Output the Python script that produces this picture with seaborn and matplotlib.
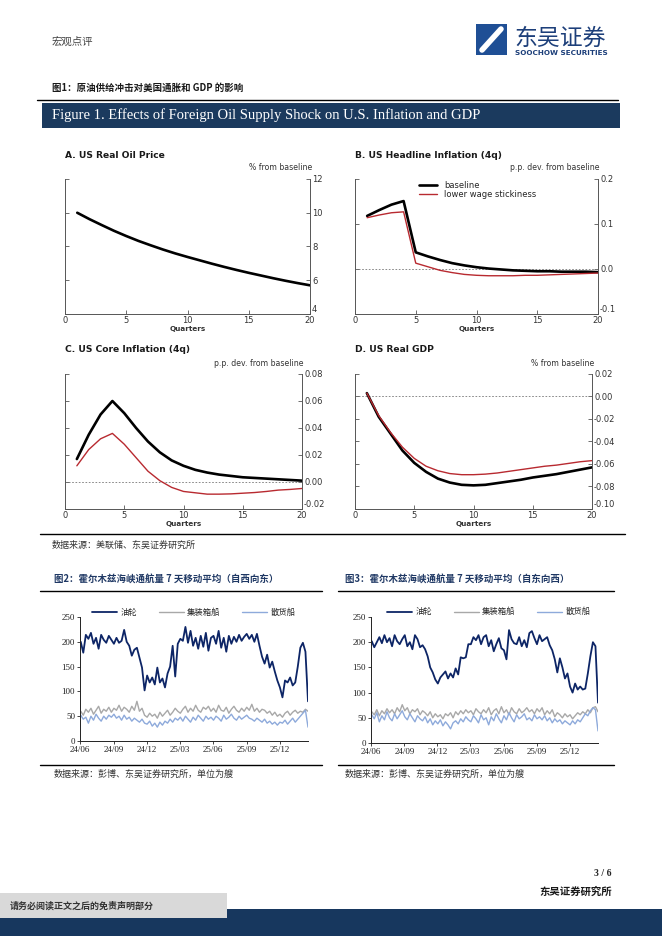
import pandas as pd
import seaborn as sns
import matplotlib.pyplot as plt
import matplotlib.dates as mdates
from matplotlib.lines import Line2D
from matplotlib.patches import Rectangle

# ---- Figure 1 data (quarters after shock) ----
quarters = list(range(1, 21))
oil_price = [10.0, 9.62, 9.27, 8.93, 8.62, 8.33, 8.07, 7.82, 7.59, 7.38,
             7.18, 6.98, 6.79, 6.61, 6.44, 6.28, 6.12, 5.97, 5.83, 5.70]
headline_base = [0.118, 0.131, 0.143, 0.151, 0.037, 0.028, 0.020, 0.013, 0.008, 0.004,
                 0.001, -0.001, -0.003, -0.004, -0.005, -0.005, -0.006, -0.006, -0.006, -0.007]
headline_low = [0.114, 0.120, 0.125, 0.127, 0.013, 0.005, -0.003, -0.008, -0.012, -0.014,
                -0.015, -0.015, -0.015, -0.014, -0.014, -0.013, -0.012, -0.011, -0.010, -0.009]
core_base = [0.017, 0.035, 0.050, 0.060, 0.051, 0.040, 0.030, 0.022, 0.016, 0.012,
             0.009, 0.007, 0.0055, 0.0045, 0.0035, 0.003, 0.0025, 0.002, 0.0015, 0.001]
core_low = [0.012, 0.024, 0.032, 0.036, 0.028, 0.018, 0.008, 0.001, -0.004, -0.007,
            -0.008, -0.009, -0.009, -0.0088, -0.0083, -0.0078, -0.007, -0.006, -0.0055, -0.0048]
gdp_base = [0.003, -0.018, -0.033, -0.048, -0.059, -0.067, -0.073, -0.0765, -0.0785, -0.079,
            -0.0785, -0.077, -0.0755, -0.074, -0.072, -0.0705, -0.069, -0.067, -0.065, -0.063]
gdp_low = [0.003, -0.017, -0.032, -0.045, -0.055, -0.062, -0.066, -0.0685, -0.0695, -0.0695,
           -0.069, -0.068, -0.0665, -0.065, -0.0635, -0.062, -0.061, -0.0595, -0.058, -0.057]

# ---- Figures 2/3 data: weekly 7-day MA vessel counts ----
weeks = pd.date_range('2024-06-03', periods=90, freq='7D')
we_tanker = [200, 178, 214, 206, 218, 196, 208, 186, 214, 204, 198, 212, 204,
             196, 208, 198, 202, 224, 200, 192, 172, 184, 188, 168, 148, 102, 132,
             118, 128, 114, 148, 118, 126, 108, 136, 150, 192, 130, 196, 206,
             202, 230, 198, 222, 192, 208, 186, 212, 190, 218, 182, 208, 212,
             196, 222, 188, 208, 180, 212, 196, 210, 200, 214, 202, 210, 216,
             206, 214, 200, 216, 192, 170, 156, 174, 148, 160, 140, 122, 108, 88,
             122, 118, 128, 112, 118, 150, 188, 198, 180, 80]
we_container = [60, 52, 64, 58, 66, 54, 62, 70, 56, 64, 60, 68, 58,
                66, 62, 72, 60, 68, 64, 58, 70, 62, 80, 60, 66, 52,
                48, 56, 50, 54, 46, 58, 50, 56, 62, 52, 58, 66, 60,
                56, 64, 70, 58, 66, 60, 72, 62, 58, 68, 64, 70, 60,
                66, 58, 72, 62, 60, 68, 56, 64, 70, 62, 58, 66, 60,
                68, 62, 74, 60, 66, 58, 64, 62, 56, 60, 52, 58, 50,
                54, 48, 56, 60, 52, 58, 62, 56, 60, 58, 64, 60]
we_bulk = [52, 44, 48, 36, 50, 42, 54, 46, 40, 50, 44, 52, 48,
           54, 46, 50, 42, 52, 44, 48, 40, 46, 42, 38, 44, 36,
           34, 40, 30, 36, 28, 38, 32, 40, 36, 44, 38, 46, 42,
           48, 40, 50, 44, 38, 48, 42, 52, 46, 40, 50, 44, 48,
           42, 50, 46, 40, 52, 44, 48, 54, 46, 42, 50, 44, 48,
           52, 46, 44, 40, 46, 42, 38, 44, 36, 40, 34, 38, 32,
           38, 36, 42, 34, 40, 46, 38, 44, 50, 56, 62, 28]
ew_tanker = [202, 190, 200, 210, 198, 214, 200, 208, 192, 214, 202, 196, 206,
             214, 192, 200, 186, 214, 206, 190, 194, 186, 172, 150, 140, 126, 118,
             130, 136, 142, 128, 138, 130, 148, 136, 170, 168, 170, 196, 196,
             210, 204, 214, 196, 210, 214, 192, 204, 182, 196, 208, 188, 184,
             166, 224, 206, 198, 196, 210, 192, 204, 190, 218, 222, 208, 196,
             214, 202, 206, 210, 194, 184, 166, 140, 168, 150, 128, 138, 112, 100,
             118, 106, 112, 106, 108, 138, 172, 200, 192, 80]
ew_container = [62, 56, 66, 54, 64, 58, 68, 60, 66, 58, 70, 62, 76,
                64, 70, 58, 66, 62, 68, 56, 64, 60, 54, 62, 50, 58,
                52, 56, 48, 58, 54, 60, 50, 62, 56, 64, 58, 66, 60,
                64, 56, 68, 62, 58, 66, 60, 70, 56, 64, 68, 58, 72,
                60, 66, 56, 70, 62, 58, 68, 60, 64, 70, 62, 66, 58,
                68, 62, 70, 56, 64, 58, 66, 52, 60, 56, 50, 58, 52,
                56, 48, 54, 60, 56, 62, 58, 66, 60, 70, 72, 62]
ew_bulk = [56, 48, 60, 42, 54, 46, 62, 50, 44, 58, 48, 56, 64,
           52, 46, 58, 50, 42, 54, 48, 44, 52, 40, 48, 36, 44,
           38, 46, 34, 42, 36, 28, 40, 44, 38, 48, 42, 52, 46,
           42, 54, 48, 40, 56, 46, 50, 36, 52, 44, 58, 48, 40,
           54, 46, 60, 50, 42, 56, 48, 52, 58, 46, 50, 44, 56,
           48, 52, 46, 54, 44, 50, 40, 48, 42, 46, 38, 44, 40,
           36, 44, 38, 46, 42, 50, 58, 54, 64, 70, 66, 24]
series_names = ['油轮', '集装箱船', '散货船']
series_colors = ['#0d2566', '#a8a8a8', '#8eaadb']
month_ticks = pd.to_datetime(['2024-06-01', '2024-09-01', '2024-12-01', '2025-03-01',
                              '2025-06-01', '2025-09-01', '2025-12-01'])

sns.set_style('white')
plt.rcParams['font.family'] = ['DejaVu Sans', 'Noto Sans CJK SC']
CJK = ['Noto Sans CJK SC', 'DejaVu Sans']
SERIF = ['Liberation Serif', 'DejaVu Serif']
NAVY = '#1b3a5e'
RED = '#b82a30'

W, H = 662, 936
fig = plt.figure(figsize=(W / 100, H / 100), dpi=100)


def px_axes(l, t, r, b):
    return fig.add_axes([l / W, 1 - b / H, (r - l) / W, (b - t) / H])


def ftext(x, y, s, **kw):
    fig.text(x / W, 1 - y / H, s, **kw)


def hline(x0, x1, y, lw=1.0, color='black'):
    fig.add_artist(Line2D([x0 / W, x1 / W], [1 - y / H, 1 - y / H], lw=lw, color=color,
                          transform=fig.transFigure))


def rect(x0, y0, x1, y1, color):
    fig.add_artist(Rectangle((x0 / W, 1 - y1 / H), (x1 - x0) / W, (y1 - y0) / H,
                             facecolor=color, edgecolor='none', transform=fig.transFigure))


# ---- header ----
ftext(52, 42, '宏观点评', family=CJK, fontsize=7.5, color='#444', va='center')
rect(476, 24, 507, 55, '#1f4f95')
fig.add_artist(Line2D([482 / W, 501 / W], [1 - 50 / H, 1 - 29 / H], lw=4, color='white',
                      solid_capstyle='round', transform=fig.transFigure))
ftext(514, 38, '东吴证券', family=CJK, fontsize=16.5, color='#1d3f7a', va='center')
ftext(515, 53, 'SOOCHOW SECURITIES', fontsize=5.2, fontweight='bold', color='#1d3f7a', va='center')

# ---- Figure 1 heading ----
ftext(52, 88, '图1：原油供给冲击对美国通胀和 GDP 的影响', family=CJK, fontsize=6.8,
      fontweight='bold', color='#1a1a1a', va='center')
hline(37, 618, 100, lw=1.0)
rect(42, 103, 620, 128, NAVY)
ftext(52, 115.5, 'Figure 1. Effects of Foreign Oil Supply Shock on U.S. Inflation and GDP',
      family=SERIF, fontsize=10.5, color='white', va='center')


def panel(box, title, unit, ylim, yticks, ylabels):
    l, t, r, b = box
    ax = px_axes(l, t, r, b)
    ax.set_xlim(0, 20)
    ax.set_ylim(*ylim)
    ax.set_xticks([0, 5, 10, 15, 20])
    ax.set_yticks(yticks)
    ax.set_yticklabels(ylabels)
    ax.tick_params(axis='y', left=True, right=True, labelleft=False, labelright=True,
                   direction='in', length=3, width=0.6, color='#555', labelsize=6,
                   labelcolor='#333', pad=1.5)
    ax.tick_params(axis='x', bottom=True, direction='in', length=3, width=0.6, color='#555',
                   labelsize=6, labelcolor='#333', pad=1.5)
    # lowest right-hand label sits just above the x axis, as in the source
    ax.get_yticklabels()[0].set_verticalalignment('bottom')
    for side in ['left', 'right', 'bottom']:
        ax.spines[side].set_color('#555')
        ax.spines[side].set_linewidth(0.7)
    ax.spines['top'].set_visible(False)
    ax.set_xlabel('Quarters', fontsize=5.2, fontweight='bold', color='#333', labelpad=1)
    ax.set_ylabel('')
    ftext(l, t - 24, title, fontsize=6.6, fontweight='bold', color='#1a1a1a', va='center')
    ftext(r + 2, t - 11, unit, fontsize=5.6, color='#333', ha='right', va='center')
    return ax


axA = panel((65, 179, 310, 314), 'A. US Real Oil Price', '% from baseline',
            (4, 12), [4, 6, 8, 10, 12], ['4', '6', '8', '10', '12'])
sns.lineplot(x=quarters, y=oil_price, ax=axA, color='black', lw=1.9)

axB = panel((355, 179, 598, 314), 'B. US Headline Inflation (4q)', 'p.p. dev. from baseline',
            (-0.1, 0.2), [-0.1, 0.0, 0.1, 0.2], ['-0.1', '0.0', '0.1', '0.2'])
axB.axhline(0, color='#777', lw=0.6, ls=(0, (2, 2)))
sns.lineplot(x=quarters, y=headline_base, ax=axB, color='black', lw=1.9, label='baseline')
sns.lineplot(x=quarters, y=headline_low, ax=axB, color=RED, lw=1.0, label='lower wage stickiness')
axB.legend(loc='upper left', bbox_to_anchor=(0.24, 1.03), frameon=False, fontsize=6,
           handlelength=2.2, labelspacing=0.05, handletextpad=0.8, borderpad=0.2)

axC = panel((65, 374, 302, 509), 'C. US Core Inflation (4q)', 'p.p. dev. from baseline',
            (-0.02, 0.08), [-0.02, 0.0, 0.02, 0.04, 0.06, 0.08],
            ['-0.02', '0.00', '0.02', '0.04', '0.06', '0.08'])
axC.axhline(0, color='#777', lw=0.6, ls=(0, (2, 2)))
sns.lineplot(x=quarters, y=core_base, ax=axC, color='black', lw=1.9)
sns.lineplot(x=quarters, y=core_low, ax=axC, color=RED, lw=1.0)

axD = panel((355, 374, 592, 509), 'D. US Real GDP', '% from baseline',
            (-0.10, 0.02), [-0.10, -0.08, -0.06, -0.04, -0.02, 0.0, 0.02],
            ['-0.10', '-0.08', '-0.06', '-0.04', '-0.02', '0.00', '0.02'])
axD.axhline(0, color='#777', lw=0.6, ls=(0, (2, 2)))
sns.lineplot(x=quarters, y=gdp_base, ax=axD, color='black', lw=1.9)
sns.lineplot(x=quarters, y=gdp_low, ax=axD, color=RED, lw=1.0)

hline(40, 625, 534, lw=1.0)
ftext(52, 545, '数据来源：美联储、东吴证券研究所', family=CJK, fontsize=6.5, color='#333', va='center')


# ---- Figures 2 and 3 ----
def traffic(box, title, tx, vals, legend_anchor, lines_x):
    l, t, r, b = box
    ftext(tx, 579, title, family=CJK, fontsize=6.8, fontweight='bold', color='#1f3864', va='center')
    hline(lines_x[0], lines_x[1], 591, lw=1.0)
    hline(lines_x[0], lines_x[1], 765, lw=1.0)
    ftext(tx, 774, '数据来源：彭博、东吴证券研究所，单位为艘', family=CJK, fontsize=6.5,
          color='#333', va='center')
    ax = px_axes(l, t, r, b)
    df = pd.DataFrame({'date': weeks, series_names[0]: vals[0],
                       series_names[1]: vals[1], series_names[2]: vals[2]})
    widths = [1.3, 1.0, 1.0]
    for name, col, lw in zip(series_names, series_colors, widths):
        sns.lineplot(data=df, x='date', y=name, ax=ax, color=col, lw=lw, label=name)
    ax.set_xlim(pd.Timestamp('2024-06-01'), weeks[-1])
    ax.set_ylim(0, 250)
    ax.set_yticks([0, 50, 100, 150, 200, 250])
    ax.set_xticks(month_ticks)
    ax.xaxis.set_major_formatter(mdates.DateFormatter('%y/%m'))
    ax.tick_params(axis='both', direction='out', length=2, width=0.6, labelsize=6.5,
                   labelcolor='#222', pad=1.5, bottom=True, left=True)
    for lab in ax.get_xticklabels() + ax.get_yticklabels():
        lab.set_fontfamily(SERIF)
    for side in ['top', 'right']:
        ax.spines[side].set_visible(False)
    for side in ['left', 'bottom']:
        ax.spines[side].set_color('#222')
        ax.spines[side].set_linewidth(0.7)
    ax.set_xlabel('')
    ax.set_ylabel('')
    ax.legend(loc='center', bbox_to_anchor=legend_anchor, ncol=3, frameon=False,
              prop={'family': CJK, 'size': 6}, handlelength=3.0, columnspacing=2.6,
              handletextpad=0.4)
    return ax


traffic((80, 617, 308, 741), '图2：霍尔木兹海峡通航量 7 天移动平均（自西向东）', 54,
        [we_tanker, we_container, we_bulk], (0.5, 1.04), (40, 322))
traffic((371, 617, 598, 743), '图3：霍尔木兹海峡通航量 7 天移动平均（自东向西）', 345,
        [ew_tanker, ew_container, ew_bulk], (0.52, 1.04), (338, 614))

# ---- footer ----
ftext(612, 873, '3 / 6', family=SERIF, fontsize=7, fontweight='bold', ha='right', va='center')
ftext(612, 892, '东吴证券研究所', family=CJK, fontsize=7.5, fontweight='bold', color='#1a1a1a',
      ha='right', va='center')
rect(0, 909, 662, 936, '#17375e')
rect(0, 893, 227, 918, '#d9d9d9')
ftext(10, 906, '请务必阅读正文之后的免责声明部分', family=CJK, fontsize=6.5, fontweight='bold',
      color='#333', va='center')

fig.savefig('out.png', dpi=100)
